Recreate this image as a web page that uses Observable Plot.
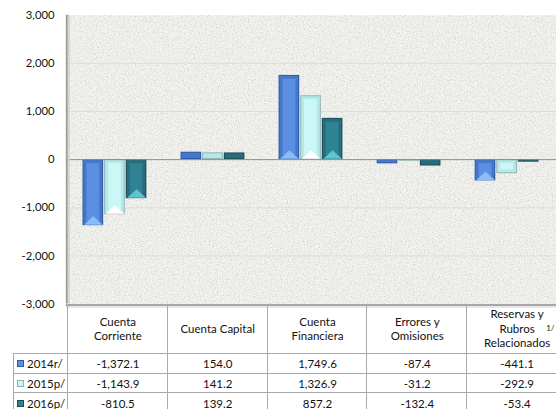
<!DOCTYPE html>
<html>
<head>
<meta charset="utf-8">
<script src="https://cdn.jsdelivr.net/npm/d3@7"></script>
<script src="https://cdn.jsdelivr.net/npm/@observablehq/plot@0.6"></script>
<style>
  html, body { margin: 0; padding: 0; background: #fff; overflow: hidden; }
  #wrap { position: relative; width: 556px; height: 409px; overflow: hidden; font-family: Lato, "Open Sans", sans-serif; color: #111; }
  #wrap svg { position: absolute; left: 0; top: 0; }
  .cell { position: absolute; box-sizing: border-box; display: flex; align-items: center; justify-content: center; text-align: center; font-size: 11.5px; white-space: pre-line; }
  .hdr { border-left: 1px solid #a9a9a9; line-height: 14.5px; }
  .val { border-left: 1px solid #a9a9a9; border-top: 1px solid #a9a9a9; }
  .leg { border-left: 1px solid #a9a9a9; border-top: 1px solid #a9a9a9; justify-content: flex-start; padding-left: 3px; }
  .sw { display: inline-block; width: 7px; height: 7px; box-sizing: border-box; margin-right: 3px; }
</style>
</head>
<body>
<div id="wrap"></div>
<script>
// ---- data ----
const categories = ["Cuenta Corriente", "Cuenta Capital", "Cuenta Financiera", "Errores y Omisiones", "Reservas y Rubros Relacionados"];
const headerLabels = ["Cuenta\nCorriente", "Cuenta Capital", "Cuenta\nFinanciera", "Errores y\nOmisiones", "Reservas y\nRubros\nRelacionados"];
const seriesNames = ["2014r/", "2015p/", "2016p/"];
const values2014 = [-1372.1, 154.0, 1749.6, -87.4, -441.1];
const values2015 = [-1143.9, 141.2, 1326.9, -31.2, -292.9];
const values2016 = [-810.5, 139.2, 857.2, -132.4, -53.4];
const yTicks = [-3000, -2000, -1000, 0, 1000, 2000, 3000];
const footnote = "1/";

// ---- styles ----
const edge  = {"2014r/": "#2f5aa3", "2015p/": "#8fb3b3", "2016p/": "#1b4c58"};
const bevel = {"2014r/": "#4677cc", "2015p/": "#b3e9e9", "2016p/": "#276c7b"};
const face  = {"2014r/": "#5b8fe2", "2015p/": "#cbf7f7", "2016p/": "#2f8292"};
const light = {"2014r/": "#8cbcf6", "2015p/": "#ffffff", "2016p/": "#5ec3d3"};

const valuesBySeries = [values2014, values2015, values2016];
const rows = categories.flatMap((cat, i) => seriesNames.map((s, j) => ({cat, series: s, value: valuesBySeries[j][i]})));

const fmtTick = d => (d < 0 ? "-" : "") + d3.format(",")(Math.abs(d));
const fmtVal = d => (d < 0 ? "-" : "") + d3.format(",.1f")(Math.abs(d));

const W = 566, H = 409, ML = 67, MT = 15, MB = 100;
const facetW = (W - ML) / categories.length;

const flatTri = {
  draw(ctx, size) {
    const r = Math.sqrt(size / Math.PI);
    ctx.moveTo(-r, 0); ctx.lineTo(r, 0); ctx.lineTo(0, -r * 0.9); ctx.closePath();
  }
};

const plot = Plot.plot({
  width: W, height: H,
  marginTop: MT, marginLeft: ML, marginRight: 0, marginBottom: MB,
  style: {fontFamily: "Lato, 'Open Sans', sans-serif", fontSize: "11.5px", color: "#111", background: "transparent"},
  fx: {domain: categories, padding: 0, round: false, axis: null},
  x: {domain: seriesNames, paddingInner: 0.05, paddingOuter: 0.76, axis: null},
  y: {domain: [-3000, 3000], ticks: yTicks, tickFormat: fmtTick, tickSize: 0, tickPadding: 12, label: null},
  marks: [
    Plot.frame({fill: "#f3f3f0", stroke: "none"}),
    Plot.gridY(yTicks.filter(d => d !== 0 && Math.abs(d) !== 3000), {stroke: "#dcdcd8", strokeOpacity: 1}),
    Plot.barY(rows, {fx: "cat", x: "series", y: "value", fill: d => edge[d.series]}),
    Plot.barY(rows, {fx: "cat", x: "series", y: "value", fill: d => bevel[d.series], inset: 1}),
    Plot.barY(rows, {fx: "cat", x: "series", y: "value", fill: d => face[d.series], inset: 4}),
    Plot.dot(rows.filter(d => Math.abs(d.value) > 400), {fx: "cat", x: "series", y: d => Math.min(0, d.value), symbol: flatTri, r: 9.5, fill: d => light[d.series], stroke: "none", dy: -1}),
    Plot.ruleY([0], {stroke: "#8a8a8a", strokeWidth: 1}),
    Plot.ruleY([-3000], {stroke: "#a6a6a6", strokeWidth: 2, dy: 1}),
    Plot.ruleY([-3000], {stroke: "#d0d0d0", strokeWidth: 1, dy: 3}),
    Plot.barY([categories[0]], {fx: d => d, y1: -3000, y2: 3000, insetRight: facetW - 2, fill: "#9c9c9c"}),
    Plot.barY([categories[0]], {fx: d => d, y1: -3000, y2: 3000, insetLeft: 2, insetRight: facetW - 4, fill: "#d4d4d4"})
  ]
});

// paper texture on plot area
const svg = d3.select(plot);
const defs = svg.insert("defs", ":first-child");
const f = defs.append("filter").attr("id", "tex").attr("x", 0).attr("y", 0).attr("width", 1).attr("height", 1);
f.append("feTurbulence").attr("type", "fractalNoise").attr("baseFrequency", 0.8).attr("numOctaves", 2).attr("seed", 4).attr("result", "n");
f.append("feColorMatrix").attr("in", "n").attr("type", "matrix")
  .attr("values", "0 0 0 0 0.62  0 0 0 0 0.62  0 0 0 0 0.6  2.2 0 0 0 -0.95").attr("result", "spots");
f.append("feComposite").attr("in", "spots").attr("in2", "SourceGraphic").attr("operator", "over");
svg.selectAll("g[aria-label=frame] rect").attr("filter", "url(#tex)");

const wrap = document.getElementById("wrap");
wrap.appendChild(plot);

// ---- data table under the chart, aligned with the fx scale and the drawn plot frame ----
const fx = plot.scale("fx");
const frameBox = plot.querySelector("g[aria-label=frame] rect").getBoundingClientRect();
const top0 = Math.round(frameBox.bottom) - 1;
const headerH = 50, rowH = 19.7, legLeft = 13;

function cell(cls, left, top, width, height, html) {
  const d = document.createElement("div");
  d.className = "cell " + cls;
  Object.assign(d.style, {left: left + "px", top: top + "px", width: width + "px", height: height + "px"});
  d.innerHTML = html;
  wrap.appendChild(d);
  return d;
}

categories.forEach((c, i) => {
  const x0 = fx.apply(c);
  const hc = cell("hdr", x0, top0 + 1, fx.bandwidth + 1, headerH, "");
  hc.textContent = headerLabels[i];
  seriesNames.forEach((s, j) => {
    cell("val", x0, top0 + headerH + j * rowH, fx.bandwidth + 1, rowH + 1, fmtVal(valuesBySeries[j][i]));
  });
});
// footnote marker on last header
{
  const x0 = fx.apply(categories[categories.length - 1]);
  const fn = document.createElement("div");
  fn.textContent = footnote;
  Object.assign(fn.style, {position: "absolute", left: (x0 + 80) + "px", top: (top0 + 21) + "px", fontSize: "8px", lineHeight: "9px"});
  wrap.appendChild(fn);
}
seriesNames.forEach((s, j) => {
  const sw = `<span class="sw" style="background:${face[s]};border:1px solid ${edge[s]}"></span>`;
  cell("leg", legLeft, top0 + headerH + j * rowH, ML - legLeft + 1, rowH + 1, sw + s);
});
</script>
</body>
</html>
